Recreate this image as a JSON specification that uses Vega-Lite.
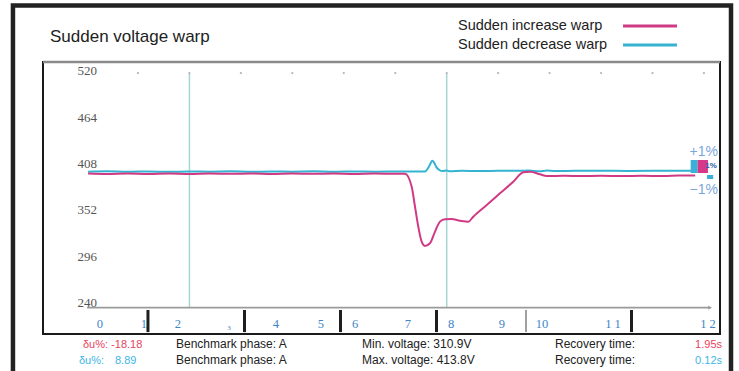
{
  "$schema": "https://vega.github.io/schema/vega-lite/v6.json",
  "width": 677,
  "height": 272,
  "autosize": {"type": "none"},
  "padding": {"left": 43, "top": 62, "right": 19, "bottom": 37},
  "background": "#ffffff",
  "config": {
    "view": {"stroke": "#1a1a1a", "strokeWidth": 2},
    "font": "Liberation Sans"
  },
  "encoding": {
    "x": {"field": "t", "type": "quantitative", "scale": {"domain": [-1.846, 11.312], "nice": false, "zero": false}, "axis": null},
    "y": {
      "field": "v", "type": "quantitative",
      "scale": {"domain": [204.6, 532.9], "nice": false, "zero": false},
      "axis": {
        "values": [240, 296, 352, 408, 464, 520],
        "orient": "left", "domain": false, "ticks": false, "tickSize": 0, "grid": false,
        "labelAlign": "left", "labelPadding": -34, "labelOffset": -2, "labelBaseline": "middle",
        "labelFont": "Liberation Serif", "labelFontSize": 13, "labelColor": "#555555",
        "title": null, "labelFlush": false, "labelOverlap": false
      }
    }
  },
  "layer": [
    {
      "data": {"values": [{"t": -2.43, "t2": 11.526, "v": 601.1, "v2": 149.1}]},
      "mark": {"type": "rect", "filled": false, "stroke": "#222222", "strokeWidth": 4.5},
      "encoding": {"x2": {"field": "t2"}, "y2": {"field": "v2"}}
    },
    {
      "data": {"values": [{"label": "Sudden voltage warp", "t": -1.71, "v": 557.4}]},
      "mark": {"type": "text", "fontSize": 17, "color": "#222222", "align": "left", "baseline": "alphabetic"},
      "encoding": {"text": {"field": "label"}}
    },
    {
      "data": {"values": [
        {"s": "Sudden increase warp", "t": 9.427, "t2": 10.476, "v": 576.4},
        {"s": "Sudden decrease warp", "t": 9.427, "t2": 10.476, "v": 553.4}
      ]},
      "mark": {"type": "rule", "strokeWidth": 3},
      "encoding": {
        "x2": {"field": "t2"},
        "color": {"field": "s", "type": "nominal", "legend": null}
      }
    },
    {
      "data": {"values": [
        {"s": "Sudden increase warp", "t": 6.22, "v": 576.4},
        {"s": "Sudden decrease warp", "t": 6.22, "v": 553.4}
      ]},
      "mark": {"type": "text", "fontSize": 14.5, "color": "#222222", "align": "left", "baseline": "middle"},
      "encoding": {"text": {"field": "s"}}
    },
    {
      "data": {"values": [{"t": -1.846, "t2": 11.312, "v": 532.9}]},
      "mark": {"type": "rule", "stroke": "#8a8a8a", "strokeWidth": 2.5},
      "encoding": {"x2": {"field": "t2"}}
    },
    {
      "data": {"values": [{"t": 1.0, "v": 519.6, "v2": 236.4}, {"t": 6.0, "v": 519.6, "v2": 236.4}]},
      "mark": {"type": "rule", "stroke": "#a6d6d2", "strokeWidth": 1.5},
      "encoding": {"y2": {"field": "v2"}}
    },
    {
      "data": {"values": [
        {"t": 0, "v": 519.6}, {"t": 1, "v": 519.6}, {"t": 2, "v": 519.6}, {"t": 3, "v": 519.6},
        {"t": 4, "v": 519.6}, {"t": 5, "v": 519.6}, {"t": 6, "v": 519.6}, {"t": 7, "v": 519.6},
        {"t": 8, "v": 519.6}, {"t": 9, "v": 519.6}, {"t": 10, "v": 519.6}, {"t": 11, "v": 519.6}
      ]},
      "mark": {"type": "point", "filled": true, "size": 5, "color": "#b5b5b5", "opacity": 1},
      "encoding": {}
    },
    {
      "data": {"values": [{"t": -0.99, "t2": 11.1, "v": 236.4}]},
      "mark": {"type": "rule", "stroke": "#9a9a9a", "strokeWidth": 1.8},
      "encoding": {"x2": {"field": "t2"}}
    },
    {
      "data": {"values": [{"t": 11.12, "v": 236.4}]},
      "mark": {"type": "point", "shape": "triangle-right", "filled": true, "size": 18, "color": "#9a9a9a", "opacity": 1},
      "encoding": {}
    },
    {
      "data": {"values": [
        {"t": 0.194, "v": 233.6, "v2": 206.9}, {"t": 2.070, "v": 233.6, "v2": 206.9},
        {"t": 3.936, "v": 233.6, "v2": 206.9}, {"t": 5.802, "v": 233.6, "v2": 206.9},
        {"t": 9.592, "v": 233.6, "v2": 206.9}
      ]},
      "mark": {"type": "rule", "stroke": "#1e1e1e", "strokeWidth": 3},
      "encoding": {"y2": {"field": "v2"}}
    },
    {
      "data": {"values": [{"t": 7.541, "v": 233.6, "v2": 206.9}]},
      "mark": {"type": "rule", "stroke": "#a0a0a0", "strokeWidth": 2},
      "encoding": {"y2": {"field": "v2"}}
    },
    {
      "data": {"values": [
        {"s": "Sudden decrease warp", "t": -0.97, "v": 400.5},
        {"s": "Sudden decrease warp", "t": -0.6, "v": 400.9},
        {"s": "Sudden decrease warp", "t": -0.2, "v": 400.4},
        {"s": "Sudden decrease warp", "t": 0.2, "v": 400.8},
        {"s": "Sudden decrease warp", "t": 0.6, "v": 400.3},
        {"s": "Sudden decrease warp", "t": 1.0, "v": 400.7},
        {"s": "Sudden decrease warp", "t": 1.4, "v": 400.5},
        {"s": "Sudden decrease warp", "t": 1.8, "v": 400.9},
        {"s": "Sudden decrease warp", "t": 2.2, "v": 400.4},
        {"s": "Sudden decrease warp", "t": 2.6, "v": 400.7},
        {"s": "Sudden decrease warp", "t": 3.0, "v": 400.5},
        {"s": "Sudden decrease warp", "t": 3.4, "v": 400.9},
        {"s": "Sudden decrease warp", "t": 3.8, "v": 400.4},
        {"s": "Sudden decrease warp", "t": 4.2, "v": 400.8},
        {"s": "Sudden decrease warp", "t": 4.6, "v": 400.5},
        {"s": "Sudden decrease warp", "t": 5.0, "v": 400.7},
        {"s": "Sudden decrease warp", "t": 5.4, "v": 400.6},
        {"s": "Sudden decrease warp", "t": 5.58, "v": 400.8},
        {"s": "Sudden decrease warp", "t": 5.64, "v": 405.0},
        {"s": "Sudden decrease warp", "t": 5.69, "v": 411.0},
        {"s": "Sudden decrease warp", "t": 5.72, "v": 413.8},
        {"s": "Sudden decrease warp", "t": 5.76, "v": 411.0},
        {"s": "Sudden decrease warp", "t": 5.80, "v": 406.0},
        {"s": "Sudden decrease warp", "t": 5.86, "v": 402.5},
        {"s": "Sudden decrease warp", "t": 5.92, "v": 401.3},
        {"s": "Sudden decrease warp", "t": 6.0, "v": 401.9},
        {"s": "Sudden decrease warp", "t": 6.05, "v": 401.0},
        {"s": "Sudden decrease warp", "t": 6.3, "v": 401.5},
        {"s": "Sudden decrease warp", "t": 6.6, "v": 401.3},
        {"s": "Sudden decrease warp", "t": 7.0, "v": 401.6},
        {"s": "Sudden decrease warp", "t": 7.4, "v": 401.7},
        {"s": "Sudden decrease warp", "t": 7.6, "v": 401.8},
        {"s": "Sudden decrease warp", "t": 7.8, "v": 401.0},
        {"s": "Sudden decrease warp", "t": 7.95, "v": 401.9},
        {"s": "Sudden decrease warp", "t": 8.1, "v": 401.3},
        {"s": "Sudden decrease warp", "t": 8.5, "v": 401.6},
        {"s": "Sudden decrease warp", "t": 9.0, "v": 401.7},
        {"s": "Sudden decrease warp", "t": 9.5, "v": 401.4},
        {"s": "Sudden decrease warp", "t": 10.0, "v": 401.6},
        {"s": "Sudden decrease warp", "t": 10.4, "v": 401.7},
        {"s": "Sudden decrease warp", "t": 10.83, "v": 401.6},
        {"s": "Sudden increase warp", "t": -0.97, "v": 398.2},
        {"s": "Sudden increase warp", "t": -0.6, "v": 397.6},
        {"s": "Sudden increase warp", "t": -0.2, "v": 398.3},
        {"s": "Sudden increase warp", "t": 0.2, "v": 397.8},
        {"s": "Sudden increase warp", "t": 0.6, "v": 398.4},
        {"s": "Sudden increase warp", "t": 1.0, "v": 397.7},
        {"s": "Sudden increase warp", "t": 1.4, "v": 398.2},
        {"s": "Sudden increase warp", "t": 1.8, "v": 397.9},
        {"s": "Sudden increase warp", "t": 2.2, "v": 398.4},
        {"s": "Sudden increase warp", "t": 2.6, "v": 397.8},
        {"s": "Sudden increase warp", "t": 3.0, "v": 398.3},
        {"s": "Sudden increase warp", "t": 3.4, "v": 397.9},
        {"s": "Sudden increase warp", "t": 3.8, "v": 398.2},
        {"s": "Sudden increase warp", "t": 4.2, "v": 397.7},
        {"s": "Sudden increase warp", "t": 4.6, "v": 398.3},
        {"s": "Sudden increase warp", "t": 5.0, "v": 398.0},
        {"s": "Sudden increase warp", "t": 5.19, "v": 398.0},
        {"s": "Sudden increase warp", "t": 5.32, "v": 382.4},
        {"s": "Sudden increase warp", "t": 5.384, "v": 358.3},
        {"s": "Sudden increase warp", "t": 5.448, "v": 334.1},
        {"s": "Sudden increase warp", "t": 5.514, "v": 316.0},
        {"s": "Sudden increase warp", "t": 5.578, "v": 310.9},
        {"s": "Sudden increase warp", "t": 5.675, "v": 314.1},
        {"s": "Sudden increase warp", "t": 5.773, "v": 328.1},
        {"s": "Sudden increase warp", "t": 5.870, "v": 340.2},
        {"s": "Sudden increase warp", "t": 5.967, "v": 343.1},
        {"s": "Sudden increase warp", "t": 6.097, "v": 343.3},
        {"s": "Sudden increase warp", "t": 6.258, "v": 341.4},
        {"s": "Sudden increase warp", "t": 6.420, "v": 340.2},
        {"s": "Sudden increase warp", "t": 6.517, "v": 346.2},
        {"s": "Sudden increase warp", "t": 6.778, "v": 360.3},
        {"s": "Sudden increase warp", "t": 7.036, "v": 374.4},
        {"s": "Sudden increase warp", "t": 7.294, "v": 388.4},
        {"s": "Sudden increase warp", "t": 7.489, "v": 399.8},
        {"s": "Sudden increase warp", "t": 7.619, "v": 400.5},
        {"s": "Sudden increase warp", "t": 7.813, "v": 397.4},
        {"s": "Sudden increase warp", "t": 7.944, "v": 395.3},
        {"s": "Sudden increase warp", "t": 8.3, "v": 395.5},
        {"s": "Sudden increase warp", "t": 8.6, "v": 395.3},
        {"s": "Sudden increase warp", "t": 9.0, "v": 395.6},
        {"s": "Sudden increase warp", "t": 9.4, "v": 395.2},
        {"s": "Sudden increase warp", "t": 9.8, "v": 395.5},
        {"s": "Sudden increase warp", "t": 10.2, "v": 395.3},
        {"s": "Sudden increase warp", "t": 10.5, "v": 395.8},
        {"s": "Sudden increase warp", "t": 10.83, "v": 396.0}
      ]},
      "mark": {"type": "line", "strokeWidth": 2, "interpolate": "monotone"},
      "encoding": {
        "color": {
          "field": "s", "type": "nominal",
          "scale": {"domain": ["Sudden increase warp", "Sudden decrease warp"], "range": ["#d03a84", "#35b3d2"]},
          "legend": null
        }
      }
    },
    {
      "data": {"values": [
        {"label": "0", "t": -0.739, "v": 211.3}, {"label": "1", "t": 0.117, "v": 211.3},
        {"label": "2", "t": 0.777, "v": 211.3}, {"label": "4", "t": 2.682, "v": 211.3},
        {"label": "5", "t": 3.557, "v": 211.3}, {"label": "6", "t": 4.218, "v": 211.3},
        {"label": "7", "t": 5.248, "v": 211.3}, {"label": "8", "t": 6.084, "v": 211.3},
        {"label": "9", "t": 7.075, "v": 211.3}, {"label": "10", "t": 7.852, "v": 211.3},
        {"label": "1 1", "t": 9.232, "v": 211.3}, {"label": "1 2", "t": 11.079, "v": 211.3}
      ]},
      "mark": {"type": "text", "font": "Liberation Serif", "fontSize": 12.5, "color": "#3d85c6", "align": "center", "baseline": "alphabetic"},
      "encoding": {"text": {"field": "label"}}
    },
    {
      "data": {"values": [{"label": "3", "t": 1.769, "v": 209.5}]},
      "mark": {"type": "text", "font": "Liberation Serif", "fontSize": 7, "color": "#3d85c6", "align": "center", "baseline": "alphabetic"},
      "encoding": {"text": {"field": "label"}}
    },
    {
      "data": {"values": [{"label": "+1%", "t": 11.273, "v": 424.3}, {"label": "−1%", "t": 11.273, "v": 378.4}]},
      "mark": {"type": "text", "fontSize": 14, "color": "#7ba7dc", "align": "right", "baseline": "middle"},
      "encoding": {"text": {"field": "label"}}
    },
    {
      "data": {"values": [{"t": 10.742, "t2": 10.878, "v": 414.6, "v2": 398.9}, {"t": 11.06, "t2": 11.18, "v": 396.5, "v2": 391.7}]},
      "mark": {"type": "rect", "color": "#3ab0d8", "opacity": 1},
      "encoding": {"x2": {"field": "t2"}, "y2": {"field": "v2"}}
    },
    {
      "data": {"values": [{"t": 10.878, "t2": 11.078, "v": 414.6, "v2": 398.9}]},
      "mark": {"type": "rect", "color": "#d6398a", "opacity": 1},
      "encoding": {"x2": {"field": "t2"}, "y2": {"field": "v2"}}
    },
    {
      "data": {"values": [{"label": "1%", "t": 11.137, "v": 406.8}]},
      "mark": {"type": "text", "fontSize": 8, "fontWeight": "bold", "color": "#2a5aa8", "align": "center", "baseline": "middle"},
      "encoding": {"text": {"field": "label"}}
    },
    {
      "data": {"values": [{"label": "δu%: -18.18", "t": -1.069, "v": 188.0}]},
      "mark": {"type": "text", "fontSize": 11, "color": "#e8435c", "align": "left", "baseline": "alphabetic"},
      "encoding": {"text": {"field": "label"}}
    },
    {
      "data": {"values": [{"label": "δu%:", "t": -1.147, "v": 168.0}, {"label": "8.89", "t": -0.447, "v": 168.0}]},
      "mark": {"type": "text", "fontSize": 11, "color": "#40b6e6", "align": "left", "baseline": "alphabetic"},
      "encoding": {"text": {"field": "label"}}
    },
    {
      "data": {"values": [
        {"label": "Benchmark phase: A", "t": 0.739, "v": 188.0},
        {"label": "Benchmark phase: A", "t": 0.739, "v": 168.0},
        {"label": "Min. voltage: 310.9V", "t": 4.354, "v": 188.0},
        {"label": "Max. voltage: 413.8V", "t": 4.354, "v": 168.0},
        {"label": "Recovery time:", "t": 8.105, "v": 188.0},
        {"label": "Recovery time:", "t": 8.105, "v": 168.0}
      ]},
      "mark": {"type": "text", "fontSize": 12, "color": "#222222", "align": "left", "baseline": "alphabetic"},
      "encoding": {"text": {"field": "label"}}
    },
    {
      "data": {"values": [{"label": "1.95s", "t": 11.351, "v": 188.0}]},
      "mark": {"type": "text", "fontSize": 11, "color": "#e8435c", "align": "right", "baseline": "alphabetic"},
      "encoding": {"text": {"field": "label"}}
    },
    {
      "data": {"values": [{"label": "0.12s", "t": 11.351, "v": 168.0}]},
      "mark": {"type": "text", "fontSize": 11, "color": "#40b6e6", "align": "right", "baseline": "alphabetic"},
      "encoding": {"text": {"field": "label"}}
    }
  ]
}
